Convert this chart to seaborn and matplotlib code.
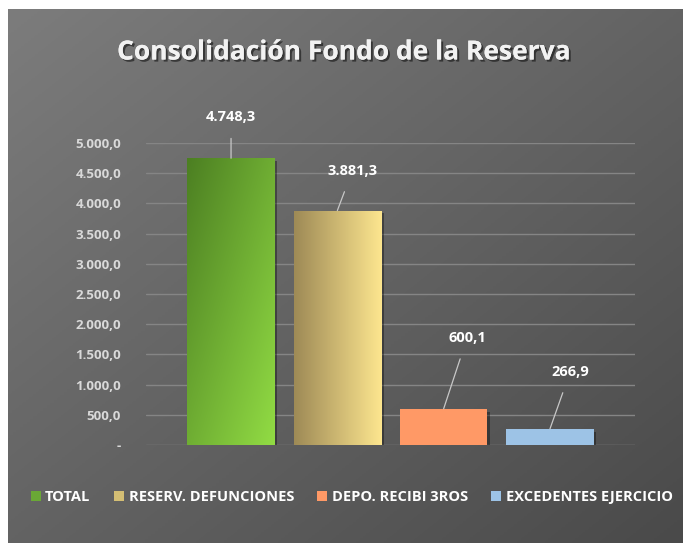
import numpy as np
import seaborn as sns
import matplotlib.pyplot as plt
import matplotlib.patheffects as pe
from matplotlib.colors import LinearSegmentedColormap
from matplotlib.patches import Patch

# Chart data
categories = ['TOTAL', 'RESERV. DEFUNCIONES', 'DEPO. RECIBI 3ROS', 'EXCEDENTES EJERCICIO']
values = [4748.3, 3881.3, 600.1, 266.9]
value_labels = ['4.748,3', '3.881,3', '600,1', '266,9']
yticks = [0, 500, 1000, 1500, 2000, 2500, 3000, 3500, 4000, 4500, 5000]
ytick_labels = ['-', '500,0', '1.000,0', '1.500,0', '2.000,0', '2.500,0',
                '3.000,0', '3.500,0', '4.000,0', '4.500,0', '5.000,0']
colors = ['#6aa836', '#d4be74', '#ff9966', '#9dc3e6']

sns.set_theme(style='white')
plt.rcParams['font.family'] = ['Open Sans', 'DejaVu Sans']

fig = plt.figure(figsize=(6.83, 5.43), dpi=100)
fig.patch.set_facecolor('white')

# gray diagonal gradient panel
bg = fig.add_axes([8 / 683, 0, 1 - 8 / 683, 1 - 9 / 543])
bg.set_axis_off()
gx, gy = np.meshgrid(np.linspace(0, 1, 200), np.linspace(0, 1, 200))
grad = (gx + gy) / 2
bg_cmap = LinearSegmentedColormap.from_list('bg', ['#7c7c7c', '#4a4a4a'])
bg.imshow(grad, cmap=bg_cmap, aspect='auto', extent=[0, 1, 0, 1], origin='upper')
bg.set_xlim(0, 1)
bg.set_ylim(0, 1)

ax = fig.add_axes([146 / 683, 1 - 445 / 543, 489 / 683, 302 / 543])
ax.patch.set_alpha(0)

sns.barplot(x=categories, y=values, hue=categories, palette=colors, saturation=1,
            width=0.82, legend=False, ax=ax, zorder=3)

ax.set_xlim(-0.80, 3.80)
ax.set_ylim(0, 5000)
ax.set_yticks(yticks)
ax.set_yticklabels(ytick_labels)
ax.set_xticks([])
ax.set_xlabel('')
ax.set_ylabel('')
for s in ax.spines.values():
    s.set_visible(False)
ax.grid(axis='y', color='#858585', linewidth=1, zorder=0)
ax.tick_params(axis='y', length=0, pad=18, labelsize=9.5, labelcolor='#d9d9d9')
for t in ax.get_yticklabels():
    t.set_fontweight('bold')

# gradients for first two bars
gradients = [
    ('diag', ['#4c7f22', '#92dc44']),
    ('horiz', ['#9e8a56', '#fde68f']),
]
for patch, (kind, cols) in zip(ax.patches[:2], gradients):
    x0, y0 = patch.get_x(), patch.get_y()
    w, h = patch.get_width(), patch.get_height()
    cmap = LinearSegmentedColormap.from_list('g', cols)
    if kind == 'diag':
        arr = gx * 0.5 + gy * 0.5
    else:
        arr = gx
    im = ax.imshow(arr, cmap=cmap, aspect='auto', extent=[x0, x0 + w, y0, y0 + h],
                   origin='upper', zorder=3)
    im.set_clip_path(patch)
    patch.set_facecolor('none')

# subtle shadow under bars
for patch in ax.patches:
    patch.set_path_effects([pe.withSimplePatchShadow(offset=(2, -2), shadow_rgbFace='black',
                                                     alpha=0.35), pe.Normal()])
    patch.set_edgecolor('none')

# data labels with leader lines
label_pos = [(0.0, 5430), (1.14, 4536), (2.22, 1771), (3.19, 1209)]
for i, (lx, ly) in enumerate(label_pos):
    ax.annotate(value_labels[i], xy=(i, values[i]), xytext=(lx, ly),
                ha='center', va='center', color='white', fontsize=10.5, fontweight='bold',
                annotation_clip=False,
                arrowprops=dict(arrowstyle='-', color='#c8c8c8', lw=0.9,
                                shrinkA=8, shrinkB=0))

fig.text(0.502, 1 - 52 / 543, 'Consolidación Fondo de la Reserva', ha='center', va='center',
         fontsize=19, fontweight='bold', color='#f2f2f2',
         path_effects=[pe.withSimplePatchShadow(offset=(1.5, -1.5), shadow_rgbFace='black',
                                                alpha=0.5), pe.Normal()])

handles = [Patch(facecolor=c, edgecolor='none') for c in colors]
leg = fig.legend(handles, categories, loc='center', bbox_to_anchor=(0.515, 1 - 497 / 543),
                 ncol=4, frameon=False, handlelength=0.7, handleheight=0.7,
                 handletextpad=0.3, columnspacing=1.6,
                 prop={'weight': 'bold', 'size': 10.5})
for t in leg.get_texts():
    t.set_color('white')

fig.savefig('out.png', dpi=100)
